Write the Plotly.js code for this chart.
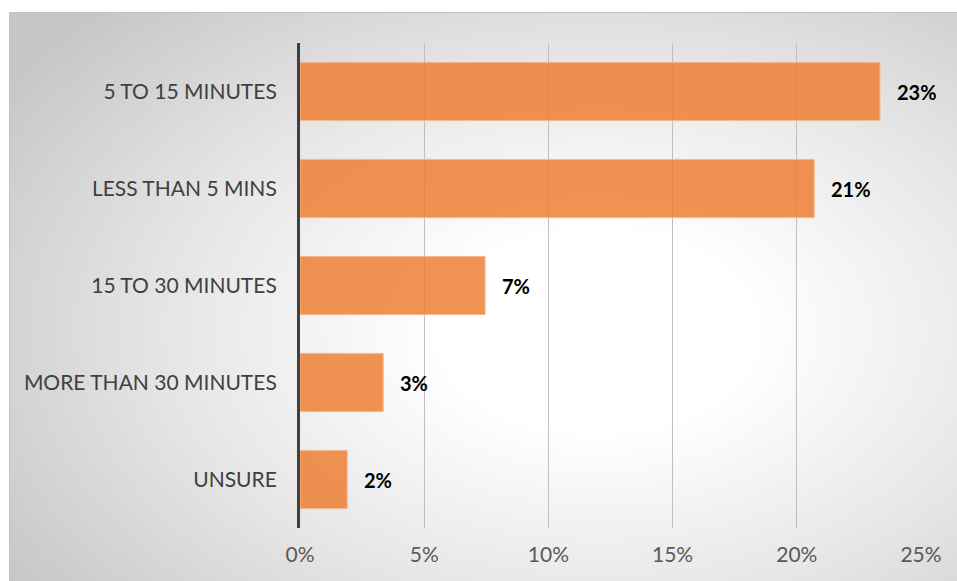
<!DOCTYPE html>
<html>
<head>
<meta charset="utf-8">
<script src="https://cdn.plot.ly/plotly-3.0.1.min.js"></script>
<style>
  html, body { margin: 0; padding: 0; background: #ffffff; width: 957px; height: 581px; overflow: hidden; }
  #chart {
    position: absolute; left: 9px; top: 12px; width: 948px; height: 569px;
    box-sizing: border-box;
    border-top: 1px solid #c2c2c2; border-left: 1px solid #c2c2c2;
    background: radial-gradient(ellipse 75% 80% at 62% 56%, #ffffff 0%, #ffffff 22%, #e6e6e6 60%, #c6c6c6 100%);
  }
</style>
</head>
<body>
<div id="chart"></div>
<script>
// Time spent, share of respondents (%)
const categories = ['5 TO 15 MINUTES', 'LESS THAN 5 MINS', '15 TO 30 MINUTES', 'MORE THAN 30 MINUTES', 'UNSURE'];
const shares = [23.35, 20.7, 7.45, 3.35, 1.9];
const tickValues = [0, 5, 10, 15, 20, 25];
const tickLabels = ['0%', '5%', '10%', '15%', '20%', '25%'];

const fontFamily = 'Lato, "Open Sans", "Liberation Sans", sans-serif';

const trace = {
  type: 'bar',
  orientation: 'h',
  x: shares,
  y: categories,
  marker: {
    color: 'rgba(237,125,49,0.84)',
    line: { color: 'rgba(246,184,142,1)', width: 1 }
  },
  hoverinfo: 'skip'
};

// value labels, rounded to whole percent, placed just past each bar's end
const annotations = shares.map((v, i) => ({
  x: v, y: categories[i], xref: 'x', yref: 'y',
  text: Math.round(v) + '%',
  showarrow: false, xanchor: 'left', yanchor: 'middle', xshift: 15,
  font: { family: fontFamily, size: 20, color: '#000000', weight: 'bold' }
}));

const layout = {
  width: 948, height: 569,
  margin: { l: 290, r: 37, t: 30, b: 54 },
  paper_bgcolor: 'rgba(0,0,0,0)',
  plot_bgcolor: 'rgba(0,0,0,0)',
  showlegend: false,
  bargap: 0.4,
  font: { family: fontFamily, size: 21, color: '#595959' },
  xaxis: {
    range: [0, 25],
    tickvals: tickValues,
    ticktext: tickLabels,
    showgrid: true, gridcolor: '#bfbfbf', gridwidth: 1,
    zeroline: false, showline: false,
    ticks: '', ticklabelstandoff: 12,
    tickfont: { family: fontFamily, size: 21, color: '#595959' },
    fixedrange: true
  },
  yaxis: {
    autorange: 'reversed',
    showgrid: false, zeroline: false,
    showline: true, linecolor: '#404040', linewidth: 3,
    ticks: '', ticklabelstandoff: 16,
    tickfont: { family: fontFamily, size: 21, color: '#404040' },
    fixedrange: true
  },
  annotations: annotations
};

Plotly.newPlot('chart', [trace], layout, { displayModeBar: false, staticPlot: true });
</script>
</body>
</html>
